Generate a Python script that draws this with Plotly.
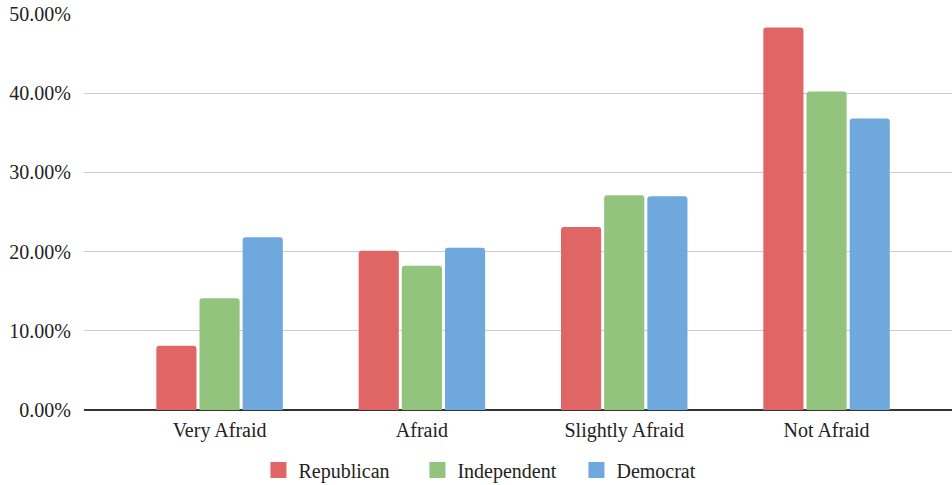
import plotly.graph_objects as go

categories = ["Very Afraid", "Afraid", "Slightly Afraid", "Not Afraid"]
republican = [8.1, 20.1, 23.1, 48.3]
independent = [14.1, 18.2, 27.1, 40.2]
democrat = [21.8, 20.5, 27.0, 36.8]
y_ticks = [0, 10, 20, 30, 40, 50]
y_tick_labels = ["0.00%", "10.00%", "20.00%", "30.00%", "40.00%", "50.00%"]

series = [
    ("Republican", republican, "#E06666"),
    ("Independent", independent, "#93C47D"),
    ("Democrat", democrat, "#6FA8DC"),
]

font_family = "Liberation Serif"
text_font = dict(family=font_family, size=20, color="#222222")

fig = go.Figure()
for name, vals, color in series:
    fig.add_trace(go.Bar(
        x=categories, y=vals, name=name, legendgroup=name, showlegend=False,
        marker=dict(color=color, line=dict(width=0), cornerradius=3),
    ))
# larger square swatches for the legend
for name, vals, color in series:
    fig.add_trace(go.Scatter(
        x=[None], y=[None], mode="markers", name=name, legendgroup=name,
        marker=dict(symbol="square", size=16, color=color),
    ))

fig.update_layout(
    width=952, height=485,
    margin=dict(l=84, r=0, t=14, b=75, autoexpand=False),
    paper_bgcolor="white", plot_bgcolor="white",
    barmode="group", bargap=0.36, bargroupgap=0.07,
    font=text_font,
    showlegend=True,
    legend=dict(
        orientation="h", xref="container", x=0.522, xanchor="center",
        yref="container", y=0.031, yanchor="middle",
        font=text_font, itemsizing="trace",
        entrywidth=114, entrywidthmode="pixels",
    ),
)
fig.update_xaxes(
    type="category", range=[-0.67, 3.62],
    showgrid=False, showline=False, ticks="",
    tickfont=text_font, ticklabelstandoff=6,
)
fig.update_yaxes(
    range=[0, 50], tickmode="array", tickvals=y_ticks, ticktext=y_tick_labels,
    showgrid=True, gridcolor="#CCCCCC", gridwidth=1,
    zeroline=True, zerolinecolor="#333333", zerolinewidth=1.5,
    showline=False, ticks="", ticklabelstandoff=12,
    tickfont=text_font,
)

fig.write_html("out.html")
